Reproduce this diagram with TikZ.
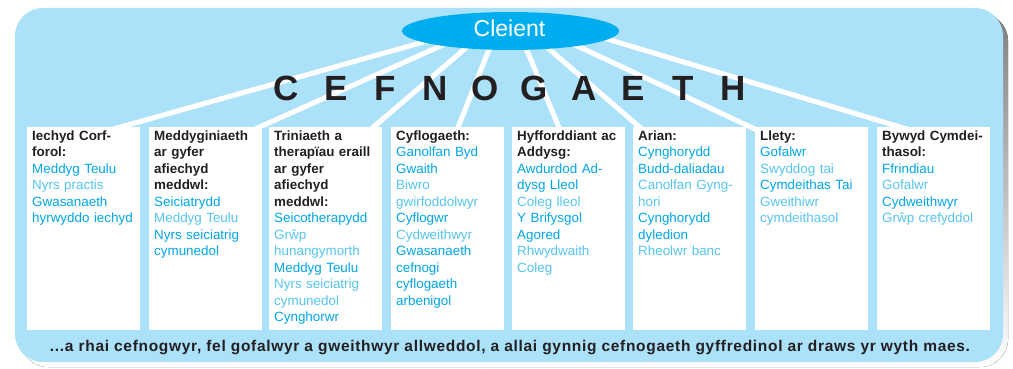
\documentclass[tikz,border=0pt]{standalone}
\usepackage{fontspec}
\setmainfont{Liberation Sans}
\usetikzlibrary{shapes.geometric}
\definecolor{panel}{HTML}{ACE1FA}
\definecolor{cyanD}{HTML}{00A6E6}
\definecolor{cyanL}{HTML}{55C5F0}
\definecolor{ink}{HTML}{231F20}
\definecolor{ell}{HTML}{00AEEF}
\definecolor{shade}{HTML}{7F7F7F}
\hyphenpenalty=10000
\exhyphenpenalty=10000
\newcommand\myhd[1]{{\bfseries\color{ink}#1}}
\newcommand\mylt[1]{{\color{cyanL}#1}}
\newcommand\myltr[1]{\makebox[49.6pt]{#1}}
\begin{document}
\begin{tikzpicture}[x=1pt,y=-1pt,
  box/.style={fill=white, draw=none, minimum width=113pt, minimum height=203pt, anchor=north west, inner sep=0pt},
  col/.style={anchor=north west, inner sep=0pt, align=left, text width=110pt, text=cyanD,
    font=\fontsize{13.4}{16.5}\selectfont},
  spoke/.style={draw=white, line width=5pt}]
\useasboundingbox (0,0) rectangle (1013,369);
\fill[white] (0,0) rectangle (1013,369);
% panel with shadow
\fill[shade, rounded corners=28pt] (20,13) rectangle (1008,367);
\fill[panel, rounded corners=28pt] (15,8) rectangle (1003,362);
% spokes
\coordinate (s1) at (454,33.5); \coordinate (e1) at (110,130);
\coordinate (s2) at (465,35);   \coordinate (e2) at (253,130);
\coordinate (s3) at (481,35);   \coordinate (e3) at (370,130);
\coordinate (s4) at (494,37);   \coordinate (e4) at (457,130);
\coordinate (s5) at (521,36);   \coordinate (e5) at (560,130);
\coordinate (s6) at (534,36);   \coordinate (e6) at (643,130);
\coordinate (s7) at (558,37);   \coordinate (e7) at (757,130);
\coordinate (s8) at (597,36);   \coordinate (e8) at (910,130);
\foreach \i in {1,...,8} {\draw[spoke] (s\i) -- (e\i);}
% client ellipse
\node[ellipse, fill=ell, minimum width=217pt, minimum height=38pt, inner sep=0pt] (cl) at (510.5,31) {};
\node[anchor=base, inner sep=0pt, text=white, font=\fontsize{23}{23}\selectfont] (cltext) at (509.5,37) {Cleient};
% title
\node[anchor=base, inner sep=0pt, text=ink, font=\bfseries\fontsize{35}{35}\selectfont] (title) at (509.5,100)
  {\myltr{C}\myltr{E}\myltr{F}\myltr{N}\myltr{O}\myltr{G}\myltr{A}\myltr{E}\myltr{T}\myltr{H}};
% boxes
\node[box] (b1) at (27,127) {};
\node[box] (b2) at (149,127) {};
\node[box] (b3) at (269,127) {};
\node[box] (b4) at (391,127) {};
\node[box] (b5) at (512,127) {};
\node[box] (b6) at (633,127) {};
\node[box] (b7) at (755,127) {};
\node[box] (b8) at (877,127) {};
% column texts
\node[col] (t1) at (32,128.5) {\strut\myhd{Iechyd Corf-\\forol:}\\Meddyg Teulu\\\mylt{Nyrs practis}\\Gwasanaeth\\hyrwyddo iechyd};
\node[col] (t2) at (154,128.5) {\strut\myhd{Meddyginiaeth\\ar gyfer\\afiechyd\\meddwl:}\\Seiciatrydd\\\mylt{Meddyg Teulu}\\Nyrs seiciatrig\\cymunedol};
\node[col] (t3) at (274,128.5) {\strut\myhd{Triniaeth a\\therapïau eraill\\ar gyfer\\afiechyd\\meddwl:}\\Seicotherapydd\\\mylt{Grŵp\\hunangymorth}\\Meddyg Teulu\\\mylt{Nyrs seiciatrig\\cymunedol}\\Cynghorwr};
\node[col] (t4) at (396,128.5) {\strut\myhd{Cyflogaeth:}\\Ganolfan Byd\\Gwaith\\\mylt{Biwro\\gwirfoddolwyr}\\Cyflogwr\\\mylt{Cydweithwyr}\\Gwasanaeth\\cefnogi\\cyflogaeth\\arbenigol};
\node[col] (t5) at (517,128.5) {\strut\myhd{Hyfforddiant ac\\Addysg:}\\Awdurdod Ad-\\dysg Lleol\\\mylt{Coleg lleol}\\Y Brifysgol\\Agored\\\mylt{Rhwydwaith\\Coleg}};
\node[col] (t6) at (638,128.5) {\strut\myhd{Arian:}\\Cynghorydd\\Budd-daliadau\\\mylt{Canolfan Gyng-\\hori}\\Cynghorydd\\dyledion\\\mylt{Rheolwr banc}};
\node[col] (t7) at (760,128.5) {\strut\myhd{Llety:}\\Gofalwr\\\mylt{Swyddog tai}\\Cymdeithas Tai\\\mylt{Gweithiwr\\cymdeithasol}};
\node[col] (t8) at (882,128.5) {\strut\myhd{Bywyd Cymdei-\\thasol:}\\Ffrindiau\\\mylt{Gofalwr}\\Cydweithwyr\\\mylt{Grŵp crefyddol}};
% footer
\node[anchor=base, inner sep=0pt, text=ink, font=\bfseries\fontsize{15.5}{15.5}\selectfont\addfontfeature{LetterSpace=4.5}] (foot) at (510,351)
  {...a rhai cefnogwyr, fel gofalwyr a gweithwyr allweddol, a allai gynnig cefnogaeth gyffredinol ar draws yr wyth maes.};
\end{tikzpicture}
\end{document}
